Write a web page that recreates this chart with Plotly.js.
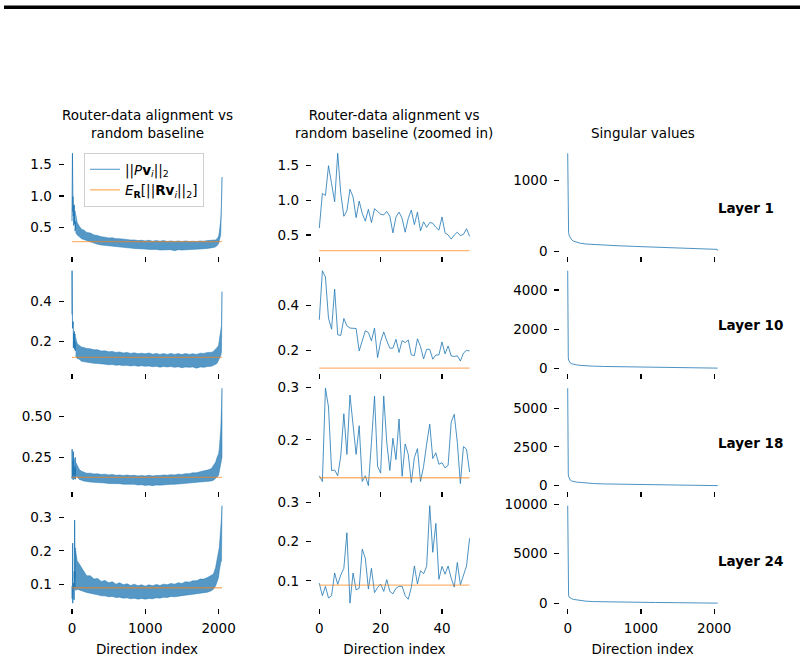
<!DOCTYPE html>
<html><head><meta charset="utf-8">
<script src="https://cdn.plot.ly/plotly-3.0.1.min.js"></script>
<style>html,body{margin:0;padding:0;background:#fff}#chart{width:804px;height:660px}</style>
</head><body><div id="chart"></div>
<script>
// ---------------- DATA ----------------
const layerNames = ["Layer 1", "Layer 10", "Layer 18", "Layer 24"];
const colTitles = ["Router-data alignment vs<br>random baseline", "Router-data alignment vs<br>random baseline (zoomed in)", "Singular values"];
const xLabel = "Direction index";

// first 50 directions (zoomed panel, also the start of the full panel)
const idxZoom = [0,1,2,3,4,5,6,7,8,9,10,11,12,13,14,15,16,17,18,19,20,21,22,23,24,25,26,27,28,29,30,31,32,33,34,35,36,37,38,39,40,41,42,43,44,45,46,47,48,49];
const zoomL1  = [0.60,1.10,1.07,1.50,1.24,0.98,1.68,1.10,0.77,0.85,1.16,1.05,0.75,0.99,0.81,0.70,0.87,0.68,0.88,0.84,0.80,0.79,0.84,0.77,0.53,0.76,0.83,0.74,0.54,0.74,0.86,0.65,0.83,0.56,0.69,0.61,0.68,0.67,0.61,0.57,0.76,0.53,0.50,0.44,0.50,0.54,0.49,0.51,0.59,0.48];
const zoomL10 = [0.336,0.555,0.527,0.343,0.294,0.473,0.269,0.266,0.342,0.309,0.299,0.297,0.297,0.197,0.242,0.287,0.279,0.242,0.299,0.167,0.239,0.282,0.242,0.209,0.209,0.249,0.190,0.243,0.234,0.246,0.179,0.176,0.251,0.216,0.161,0.204,0.204,0.160,0.179,0.179,0.237,0.184,0.219,0.175,0.172,0.175,0.152,0.187,0.199,0.197];
const zoomL18 = [0.131,0.120,0.299,0.263,0.141,0.142,0.131,0.169,0.250,0.172,0.286,0.227,0.172,0.227,0.120,0.131,0.112,0.195,0.284,0.149,0.136,0.284,0.195,0.141,0.203,0.162,0.240,0.130,0.192,0.172,0.118,0.166,0.183,0.120,0.149,0.192,0.230,0.164,0.175,0.153,0.156,0.146,0.151,0.234,0.249,0.195,0.116,0.187,0.182,0.138];
const zoomL24 = [0.094,0.062,0.086,0.056,0.062,0.120,0.091,0.115,0.132,0.223,0.043,0.120,0.077,0.081,0.181,0.158,0.079,0.132,0.070,0.083,0.092,0.073,0.103,0.073,0.067,0.081,0.086,0.086,0.062,0.053,0.083,0.138,0.092,0.126,0.118,0.137,0.292,0.173,0.247,0.104,0.137,0.117,0.138,0.107,0.084,0.147,0.090,0.115,0.138,0.209];

// remaining directions (50..2047): upper / lower edge of the noisy trace
const bandX = [50,70,100,130,160,200,250,300,350,400,450,500,550,600,650,700,750,800,850,900,950,1000,1050,1100,1150,1200,1250,1300,1350,1400,1450,1500,1550,1600,1650,1700,1750,1800,1850,1900,1930,1960,1980,2000,2010,2020,2030,2040,2047];
const hiL1  = [0.72,0.58,0.52,0.47,0.46,0.42,0.41,0.38,0.37,0.35,0.345,0.33,0.335,0.32,0.32,0.31,0.31,0.30,0.30,0.29,0.295,0.285,0.295,0.28,0.29,0.28,0.29,0.275,0.285,0.275,0.285,0.275,0.285,0.275,0.28,0.275,0.285,0.28,0.29,0.29,0.30,0.30,0.32,0.36,0.42,0.50,0.62,0.85,1.30];
const loL1  = [0.42,0.38,0.35,0.32,0.30,0.28,0.26,0.25,0.23,0.22,0.21,0.20,0.195,0.19,0.185,0.18,0.175,0.17,0.165,0.16,0.155,0.155,0.15,0.145,0.15,0.14,0.145,0.14,0.145,0.13,0.145,0.14,0.145,0.14,0.145,0.15,0.155,0.16,0.165,0.17,0.18,0.19,0.21,0.24,0.28,0.33,0.40,0.55,1.05];
const hiL10 = [0.22,0.19,0.18,0.172,0.17,0.165,0.163,0.158,0.158,0.152,0.153,0.148,0.15,0.145,0.147,0.142,0.145,0.14,0.143,0.138,0.141,0.138,0.142,0.136,0.14,0.135,0.139,0.135,0.14,0.135,0.139,0.134,0.139,0.135,0.138,0.135,0.141,0.14,0.145,0.145,0.15,0.16,0.17,0.18,0.20,0.22,0.24,0.28,0.45];
const loL10 = [0.13,0.115,0.11,0.10,0.10,0.095,0.094,0.09,0.089,0.086,0.086,0.083,0.084,0.081,0.082,0.079,0.08,0.077,0.079,0.076,0.078,0.075,0.077,0.073,0.075,0.071,0.074,0.072,0.074,0.07,0.073,0.068,0.072,0.07,0.072,0.066,0.072,0.07,0.074,0.075,0.08,0.085,0.09,0.10,0.11,0.12,0.13,0.15,0.22];
const hiL18 = [0.22,0.20,0.175,0.165,0.16,0.152,0.153,0.148,0.149,0.145,0.147,0.142,0.145,0.14,0.142,0.138,0.142,0.138,0.14,0.136,0.139,0.136,0.14,0.136,0.139,0.138,0.142,0.14,0.144,0.142,0.147,0.145,0.15,0.15,0.155,0.155,0.162,0.165,0.172,0.18,0.20,0.22,0.25,0.27,0.30,0.36,0.42,0.55,0.67];
const loL18 = [0.14,0.13,0.115,0.11,0.105,0.10,0.099,0.097,0.095,0.093,0.093,0.09,0.091,0.088,0.089,0.086,0.087,0.084,0.085,0.081,0.083,0.078,0.081,0.077,0.081,0.08,0.083,0.082,0.085,0.085,0.088,0.088,0.09,0.09,0.093,0.095,0.098,0.10,0.103,0.105,0.11,0.12,0.13,0.14,0.16,0.19,0.21,0.23,0.25];
const hiL24 = [0.20,0.17,0.16,0.15,0.14,0.125,0.125,0.115,0.117,0.108,0.111,0.104,0.107,0.10,0.104,0.098,0.101,0.096,0.1,0.095,0.098,0.094,0.098,0.095,0.099,0.096,0.1,0.098,0.102,0.10,0.104,0.102,0.107,0.106,0.11,0.11,0.115,0.115,0.12,0.125,0.13,0.15,0.17,0.19,0.21,0.24,0.26,0.30,0.335];
const loL24 = [0.08,0.085,0.082,0.08,0.078,0.075,0.072,0.07,0.068,0.065,0.065,0.062,0.063,0.06,0.061,0.058,0.059,0.056,0.058,0.055,0.057,0.055,0.057,0.056,0.059,0.058,0.061,0.06,0.063,0.062,0.065,0.065,0.067,0.068,0.07,0.07,0.072,0.074,0.076,0.08,0.085,0.095,0.105,0.12,0.14,0.155,0.165,0.17,0.20];

// random baseline E_R[||R v_i||_2] per layer
const baseX = [0, 2047];
const baseXZoom = [0, 49];
const baseL1 = 0.274, baseL10 = 0.120, baseL18 = 0.127, baseL24 = 0.089;

// singular values
const svX   = [0,1,2,3,5,8,12,20,35,55,80,120,170,250,350,500,700,900,1200,1500,1800,2000,2040,2047];
const svL1  = [1385,900,700,560,420,320,270,225,190,164,145,128,117,105,98,90,80,72,62,52,44,40,30,12];
const svL10 = [4980,2500,1700,1200,800,560,420,330,270,230,200,170,145,118,105,90,80,70,58,48,38,30,20,5];
const svL18 = [6280,3200,2200,1600,1100,750,580,440,360,300,260,230,214,170,140,115,100,85,70,55,42,35,20,5];
const svL24 = [9830,5000,3400,2500,1700,1100,800,600,500,450,380,320,267,200,160,133,105,80,67,50,38,30,15,4];

// tick values / labels
const xTicksFull = [0, 1000, 2000];
const xTicksZoom = [0, 20, 40];
const yTicksAlign = [[0.5,1.0,1.5],[0.2,0.4],[0.25,0.50],[0.1,0.2,0.3]];
const yTextAlign  = [["0.5","1.0","1.5"],["0.2","0.4"],["0.25","0.50"],["0.1","0.2","0.3"]];
const yTicksZoom  = [[0.5,1.0,1.5],[0.2,0.4],[0.2,0.3],[0.1,0.2,0.3]];
const yTextZoom   = [["0.5","1.0","1.5"],["0.2","0.4"],["0.2","0.3"],["0.1","0.2","0.3"]];
const yTicksSV    = [[0,1000],[0,2000,4000],[0,2500,5000],[0,5000,10000]];

const zooms = [zoomL1, zoomL10, zoomL18, zoomL24];
const his = [hiL1, hiL10, hiL18, hiL24];
const los = [loL1, loL10, loL18, loL24];
const bases = [baseL1, baseL10, baseL18, baseL24];
const svs = [svL1, svL10, svL18, svL24];

// ---------------- LAYOUT ----------------
const W = 804, H = 660;
const colsPx = [[64.5,229.5],[311.8,477.1],[560.2,725.2]];
const rowsPx = [[148.4,255.5],[265.9,373.0],[383.4,490.5],[500.9,608.0]];
const FONT = "DejaVu Sans, Verdana, sans-serif";
const FS = 13.5;
const BLUE = "rgba(31,119,180,0.8)";
const BLUEFILL = "rgba(31,119,180,0.76)";
const ORANGE = "rgba(255,127,14,0.58)";

const fx = p => p / W;
const fy = p => 1 - p / H;

function pad(arrs) {
  let mn = Infinity, mx = -Infinity;
  arrs.forEach(a => a.forEach(v => { if (v < mn) mn = v; if (v > mx) mx = v; }));
  const d = (mx - mn) * 0.05;
  return [mn - d, mx + d];
}

const traces = [];
const layout = {
  width: W, height: H,
  margin: {l:0, r:0, t:0, b:0},
  paper_bgcolor: "#fff", plot_bgcolor: "#fff",
  font: {family: FONT, size: FS, color: "#000"},
  showlegend: true,
  legend: {
    x: fx(84), y: fy(153), xanchor: "left", yanchor: "top",
    bgcolor: "rgba(255,255,255,0.8)", bordercolor: "#d0d0d0", borderwidth: 1,
    font: {family: FONT, size: FS, color: "#000"},
    tracegroupgap: 0
  },
  annotations: [],
  shapes: [{type: "rect", xref: "paper", yref: "paper", x0: fx(4), x1: fx(800), y0: fy(9), y1: fy(5.5), fillcolor: "#000", line: {width: 0}}]
};

for (let r = 0; r < 4; r++) {
  for (let c = 0; c < 3; c++) {
    const k = r * 3 + c + 1;
    const xs = k === 1 ? "x" : "x" + k;
    const ys = k === 1 ? "y" : "y" + k;
    const xa = k === 1 ? "xaxis" : "xaxis" + k;
    const ya = k === 1 ? "yaxis" : "yaxis" + k;
    let xr, yr, xt, yt, ytt;
    if (c === 0) {
      traces.push({type: "scatter", mode: "lines", x: bandX.concat(bandX.slice().reverse()), y: his[r].concat(los[r].slice().reverse()),
        fill: "toself", fillcolor: BLUEFILL, line: {color: BLUE, width: 0.6}, xaxis: xs, yaxis: ys, showlegend: false, hoverinfo: "skip"});
      traces.push({type: "scatter", mode: "lines", x: idxZoom, y: zooms[r], line: {color: BLUE, width: 1}, xaxis: xs, yaxis: ys,
        name: "||<i>P</i><b>v</b><sub><i>i</i></sub>||<sub>2</sub>", showlegend: r === 0});
      traces.push({type: "scatter", mode: "lines", x: baseX, y: [bases[r], bases[r]], line: {color: ORANGE, width: 1.4}, xaxis: xs, yaxis: ys,
        name: "<i>E</i><sub><b>R</b></sub>[||<b>Rv</b><sub><i>i</i></sub>||<sub>2</sub>]", showlegend: r === 0});
      xr = pad([[0, 2047]]); yr = pad([zooms[r], his[r], los[r]]);
      xt = xTicksFull; yt = yTicksAlign[r]; ytt = yTextAlign[r];
    } else if (c === 1) {
      traces.push({type: "scatter", mode: "lines", x: idxZoom, y: zooms[r], line: {color: BLUE, width: 1}, xaxis: xs, yaxis: ys, showlegend: false});
      traces.push({type: "scatter", mode: "lines", x: baseXZoom, y: [bases[r], bases[r]], line: {color: ORANGE, width: 1.4}, xaxis: xs, yaxis: ys, showlegend: false});
      xr = pad([idxZoom]); yr = pad([zooms[r], [bases[r]]]);
      xt = xTicksZoom; yt = yTicksZoom[r]; ytt = yTextZoom[r];
    } else {
      traces.push({type: "scatter", mode: "lines", x: svX, y: svs[r], line: {color: BLUE, width: 1}, xaxis: xs, yaxis: ys, showlegend: false});
      xr = pad([svX]); yr = pad([svs[r]]);
      xt = xTicksFull; yt = yTicksSV[r]; ytt = yTicksSV[r].map(String);
    }
    layout[xa] = {
      domain: [fx(colsPx[c][0]), fx(colsPx[c][1])], anchor: ys, range: xr,
      showgrid: false, zeroline: false, showline: false,
      ticks: "outside", ticklen: 5, tickwidth: 1.1, tickcolor: "#000",
      tickvals: xt, ticktext: xt.map(String), showticklabels: r === 3,
      tickfont: {family: FONT, size: FS, color: "#000"}, ticklabelstandoff: 3
    };
    if (r === 3) layout[xa].title = {text: xLabel, font: {family: FONT, size: FS, color: "#000"}, standoff: 9};
    layout[ya] = {
      domain: [fy(rowsPx[r][1]), fy(rowsPx[r][0])], anchor: xs, range: yr,
      showgrid: false, zeroline: false, showline: false,
      ticks: "outside", ticklen: 5, tickwidth: 1.1, tickcolor: "#000",
      tickvals: yt, ticktext: ytt,
      tickfont: {family: FONT, size: FS, color: "#000"}, ticklabelstandoff: 4
    };
  }
}

// column titles
const colCenters = colsPx.map(p => (p[0] + p[1]) / 2);
colTitles.forEach((t, c) => layout.annotations.push({
  text: t, xref: "paper", yref: "paper", x: fx(colCenters[c]), y: fy(143), xanchor: "center", yanchor: "bottom",
  showarrow: false, font: {family: FONT, size: FS, color: "#000"}
}));
// layer labels
const layerY = [208.3, 325, 442.7, 560.7];
layerNames.forEach((t, r) => layout.annotations.push({
  text: "<b>" + t + "</b>", xref: "paper", yref: "paper", x: fx(716), y: fy(layerY[r]), xanchor: "left", yanchor: "middle",
  showarrow: false, font: {family: FONT, size: FS, color: "#000"}
}));

Plotly.newPlot("chart", traces, layout, {displayModeBar: false, staticPlot: true});
</script>
</body></html>
